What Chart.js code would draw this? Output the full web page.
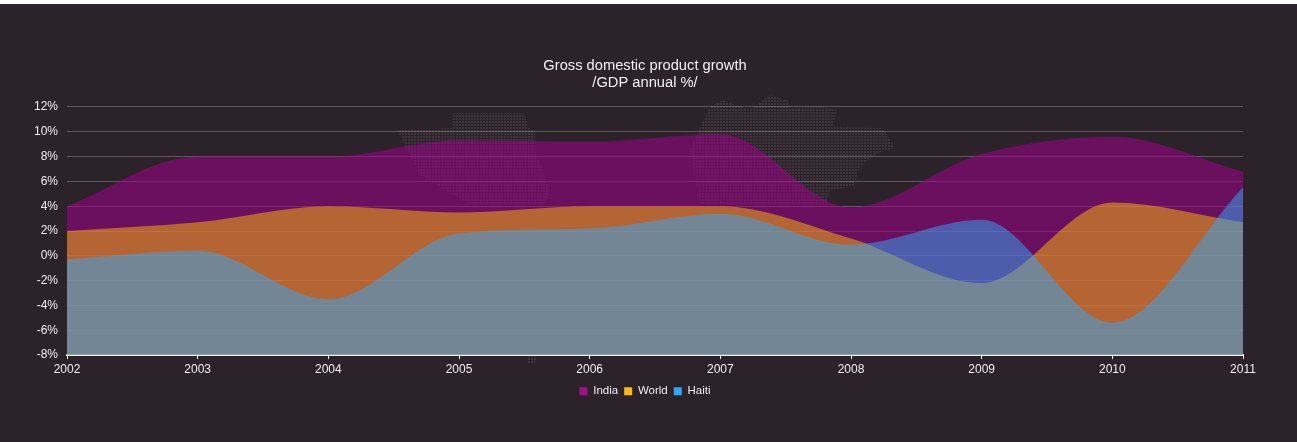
<!DOCTYPE html>
<html><head><meta charset="utf-8">
<style>
html,body{margin:0;padding:0;background:#2b2329;overflow:hidden}
#strip{height:4px;background:#fff}
#wrap{position:relative;width:1297px;height:438px}
</style>
<script src="https://cdn.jsdelivr.net/npm/chart.js@4"></script>
</head><body>
<div id="strip"></div>
<div id="wrap"><canvas id="c"></canvas></div>
<script>
const categories = ['2002','2003','2004','2005','2006','2007','2008','2009','2010','2011'];
const india = [4.0,8.0,8.0,9.3,9.2,9.8,3.9,8.2,9.6,6.8];
const world = [2.0,2.7,4.0,3.5,4.0,4.0,1.4,-2.2,4.3,2.7];
const haiti = [-0.3,0.4,-3.5,1.8,2.2,3.4,0.9,2.9,-5.4,5.5];
const titleLines = ['Gross domestic product growth','/GDP annual %/'];
const font = 'Arial, "Liberation Sans", sans-serif';
// faint dotted backdrop (decoration only, not data)
const backdropShapes = [
  [[453,113],[525,113],[528,128],[535,130],[535,150],[550,190],[545,205],[470,205],[420,175],[397,130],[453,128]],
  [[527,356],[537,356],[535,363],[527,363]],
  [[690,150],[702,123],[710,107],[723,100],[750,110],[770,95],[787,100],[790,108],[823,107],[837,110],[833,127],[883,128],[895,148],[877,153],[860,167],[853,187],[830,190],[827,203],[800,205],[700,205]]
];
const backdrop = {
  id:'backdrop',
  beforeDatasetsDraw(chart){
    const ctx = chart.ctx;
    const cell = document.createElement('canvas');
    cell.width = cell.height = 3;
    const g = cell.getContext('2d');
    g.fillStyle = 'rgba(255,255,255,0.09)';
    g.fillRect(0,0,2,2);
    ctx.save();
    ctx.fillStyle = ctx.createPattern(cell,'repeat');
    for (const shape of backdropShapes){
      ctx.beginPath();
      shape.forEach(([x,y],i)=> i ? ctx.lineTo(x,y-4) : ctx.moveTo(x,y-4));
      ctx.closePath();
      ctx.fill();
    }
    ctx.restore();
  }
};
const ds = (label, data, fill, legend) => ({label, data, fill:'start', backgroundColor:fill, borderWidth:0,
  pointRadius:0, cubicInterpolationMode:'monotone', legendColor:legend});
new Chart(document.getElementById('c'), {
  type:'line',
  plugins:[backdrop],
  data:{labels:categories, datasets:[
    ds('Haiti', haiti, 'rgba(50,170,250,0.5)', '#2fa8f5'),
    ds('World', world, 'rgba(255,185,10,0.5)', '#fdb913'),
    ds('India', india, 'rgba(160,0,140,0.55)', '#a0108c')
  ]},
  options:{
    responsive:true, maintainAspectRatio:false, animation:false,
    devicePixelRatio:1,
    layout:{padding:{left:0,right:7,top:0,bottom:35}},
    plugins:{
      tooltip:{enabled:false},
      title:{display:true,text:titleLines,color:'#f4f0f4',font:{family:font,size:14.7,weight:'normal',lineHeight:1.12},padding:{top:54,bottom:16}},
      legend:{position:'bottom',reverse:true,labels:{color:'#f0ecf0',font:{family:font,size:11.5},boxWidth:8,boxHeight:8,padding:6,
        generateLabels(chart){return chart.data.datasets.map((d,i)=>({text:d.label,fillStyle:d.legendColor,strokeStyle:d.legendColor,lineWidth:0,datasetIndex:i,fontColor:'#f0ecf0'}));}}}
    },
    scales:{
      x:{offset:false,grid:{display:true,drawOnChartArea:false,color:'#f4f0f4',tickLength:4},border:{color:'#f4f0f4',width:2},
        ticks:{color:'#f0ecf0',font:{family:font,size:12},maxRotation:0,autoSkip:false,padding:3}},
      y:{min:-8,max:12,afterFit(s){s.width=67;},
        grid:{color:'#5e585d',lineWidth:1,drawTicks:false},border:{display:false},
        ticks:{stepSize:2,color:'#f0ecf0',font:{family:font,size:12},padding:9,callback:v=>v+'%'}},
      spacer:{position:'right',min:0,max:1,afterFit(s){s.width=47;},grid:{display:false},border:{display:false},ticks:{display:false}}
    }
  }
});
</script>
</body></html>
